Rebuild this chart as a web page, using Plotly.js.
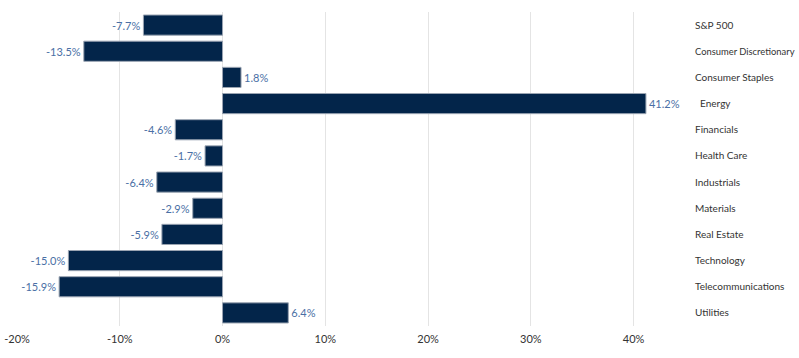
<!DOCTYPE html>
<html>
<head>
<meta charset="utf-8">
<script src="https://cdn.plot.ly/plotly-3.0.1.min.js"></script>
<style>
html,body{margin:0;padding:0;background:#fff;}
#chart{width:799px;height:358px;}
</style>
</head>
<body>
<div id="chart"></div>
<script>
const categories = ["S&P 500","Consumer Discretionary","Consumer Staples","\u00a0\u00a0Energy","Financials","Health Care","Industrials","Materials","Real Estate","Technology","Telecommunications","Utilities"];
const values = [-7.7,-13.5,1.8,41.2,-4.6,-1.7,-6.4,-2.9,-5.9,-15.0,-15.9,6.4];
const tickVals = [-20,-10,0,10,20,30,40];
const tickText = ["-20%","-10%","0%","10%","20%","30%","40%"];

const labels = values.map(v => v.toFixed(1) + "%");
const catText = categories.map(c => c.length > 20 ? '<span style="font-size:9.4px">' + c + '</span>' : c);

const trace = {
  type: "bar",
  orientation: "h",
  x: values,
  y: categories,
  text: labels,
  textposition: "outside",
  cliponaxis: false,
  textfont: {family: "Lato, 'Noto Sans', sans-serif", size: 11, color: "#4a6fa5"},
  marker: {color: "#03254a", line: {color: "#9aa4b2", width: 1}},
  hoverinfo: "none"
};

const layout = {
  width: 799, height: 358,
  margin: {l: 17, r: 114, t: 12, b: 32},
  paper_bgcolor: "#ffffff",
  plot_bgcolor: "#ffffff",
  showlegend: false,
  bargap: 0.23,
  xaxis: {
    range: [-20, 45],
    tickvals: tickVals,
    ticktext: tickText,
    showgrid: true,
    gridcolor: "#e4e4e4",
    gridwidth: 1,
    zeroline: false,
    showline: false,
    ticks: "",
    ticklabelstandoff: 5,
    tickfont: {family: "Lato, 'Noto Sans', sans-serif", size: 11, color: "#333333"},
    fixedrange: true
  },
  yaxis: {
    side: "right",
    autorange: "reversed",
    type: "category",
    tickvals: categories,
    ticktext: catText,
    showgrid: false,
    zeroline: false,
    showline: false,
    ticks: "",
    ticklabelstandoff: 9,
    tickfont: {family: "Lato, 'Noto Sans', sans-serif", size: 10, color: "#333333"},
    fixedrange: true
  }
};

Plotly.newPlot("chart", [trace], layout, {displayModeBar: false, staticPlot: true});
</script>
</body>
</html>
